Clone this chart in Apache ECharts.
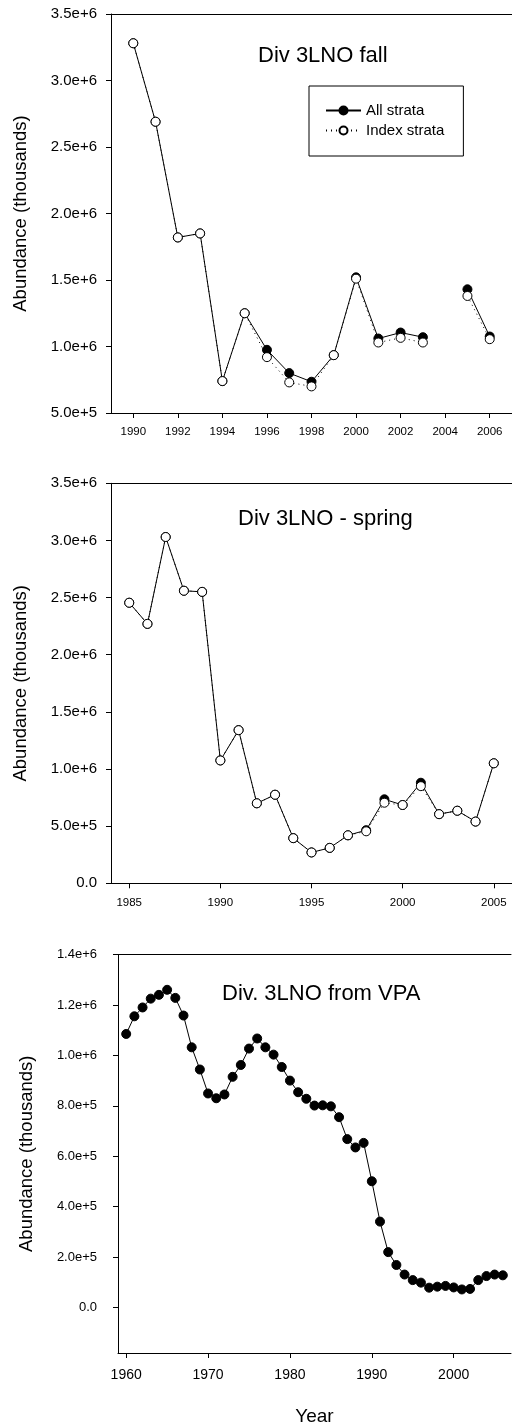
<!DOCTYPE html>
<html><head><meta charset="utf-8">
<script src="https://cdn.jsdelivr.net/npm/echarts@6/dist/echarts.min.js"></script>
<style>html,body{margin:0;padding:0;background:#fff}#c{width:512px;height:1427px}</style>
</head><body><div id="c"></div>
<script>
// ---- Panel 1: Div 3LNO fall ----
const fallYears = [1990,1991,1992,1993,1994,1995,1996,1997,1998,1999,2000,2001,2002,2003,2004,2005,2006];
const fallAll   = [3280000,2690000,1820000,1850000,740000,1250000,975000,800000,735000,935000,1520000,1060000,1105000,1070000,null,1430000,1075000];
const fallIndex = [3280000,2690000,1820000,1850000,740000,1250000,920000,730000,700000,935000,1510000,1030000,1065000,1030000,null,1380000,1055000];
const fallXTicks = [1990,1992,1994,1996,1998,2000,2002,2004,2006];

// ---- Panel 2: Div 3LNO - spring ----
const springYears = [1985,1986,1987,1988,1989,1990,1991,1992,1993,1994,1995,1996,1997,1998,1999,2000,2001,2002,2003,2004,2005];
const springAll   = [2455000,2270000,3030000,2560000,2550000,1075000,1340000,700000,775000,395000,270000,310000,420000,465000,735000,685000,880000,605000,635000,540000,1050000];
const springIndex = [2455000,2270000,3030000,2560000,2550000,1075000,1340000,700000,775000,395000,270000,310000,420000,455000,705000,685000,850000,605000,635000,540000,1050000];
const springXTicks = [1985,1990,1995,2000,2005];

// ---- Panel 3: Div. 3LNO from VPA ----
const vpaYears = [1960,1961,1962,1963,1964,1965,1966,1967,1968,1969,1970,1971,1972,1973,1974,1975,1976,1977,1978,1979,1980,1981,1982,1983,1984,1985,1986,1987,1988,1989,1990,1991,1992,1993,1994,1995,1996,1997,1998,1999,2000,2001,2002,2003,2004,2005,2006];
const vpaValues = [1085000,1155000,1190000,1225000,1240000,1260000,1228000,1158000,1032000,944000,849000,830000,845000,915000,962000,1027000,1067000,1032000,1003000,954000,900000,854000,828000,801000,802000,798000,755000,668000,635000,653000,501000,341000,220000,169000,131000,109000,99000,79000,83000,86000,80000,72000,74000,109000,125000,131000,128000];
const vpaXTicks = [1960,1970,1980,1990,2000];
const vpaYTicks = [0,200000,400000,600000,800000,1000000,1200000,1400000];

const titles = ['Div 3LNO fall', 'Div 3LNO - spring', 'Div. 3LNO from VPA'];
const yName = 'Abundance (thousands)';
const xName = 'Year';

const FONT = 'Arial, "Liberation Sans", sans-serif';
function fmt(v){ if (v === 0) return '0.0'; return Number(v).toExponential(1); }
function pairs(xs, ys){ return xs.map((x,i)=>[x, ys[i]==null ? '-' : ys[i]]); }

const chart = echarts.init(document.getElementById('c'), null, {renderer:'canvas'});

function xAxisCfg(gi, min, max, ticks, fs, margin, extra){
  return Object.assign({
    type:'value', gridIndex:gi, min:min, max:max, position:'bottom',
    axisLine:{show:true, onZero:false, lineStyle:{color:'#000', width:1}},
    axisTick:{show:true, inside:false, length:5, customValues:ticks, lineStyle:{color:'#000'}},
    axisLabel:{show:true, customValues:ticks, color:'#000', fontFamily:FONT, fontSize:fs, margin:margin, formatter:v=>String(v)},
    splitLine:{show:false}
  }, extra||{});
}
function topAxisCfg(gi, min, max){
  return {
    type:'value', gridIndex:gi, min:min, max:max, position:'top',
    axisLine:{show:true, onZero:false, lineStyle:{color:'#000', width:1}},
    axisTick:{show:false}, axisLabel:{show:false}, splitLine:{show:false}
  };
}
function yAxisCfg(gi, min, max, opts){
  const o = {
    type:'value', gridIndex:gi, min:min, max:max,
    axisLine:{show:true, onZero:false, lineStyle:{color:'#000', width:1}},
    axisTick:{show:true, inside:false, length:5, lineStyle:{color:'#000'}},
    axisLabel:{color:'#000', fontFamily:FONT, fontSize:opts.fs, margin:opts.margin, formatter:fmt},
    splitLine:{show:false},
    name:yName, nameLocation:'middle', nameRotate:90, nameGap:opts.nameGap,
    nameTextStyle:{color:'#000', fontFamily:FONT, fontSize:18.5}
  };
  if (opts.interval) o.interval = opts.interval;
  if (opts.ticks){ o.axisTick.customValues = opts.ticks; o.axisLabel.customValues = opts.ticks; }
  return o;
}

const lineAll = {color:'#000', width:1, type:'solid'};
const lineIdx = {color:'#000', width:1, type:[1,4]};

const option = {
  backgroundColor:'#fff',
  animation:false,
  title: [
    {text:titles[0], left:258, top:45, padding:0, textStyle:{fontFamily:FONT, fontSize:22, fontWeight:'normal', color:'#000'}},
    {text:titles[1], left:238, top:508, padding:0, textStyle:{fontFamily:FONT, fontSize:22, fontWeight:'normal', color:'#000'}},
    {text:titles[2], left:222, top:983, padding:0, textStyle:{fontFamily:FONT, fontSize:22, fontWeight:'normal', color:'#000'}}
  ],
  legend: {
    data:['All strata','Index strata'], orient:'vertical', left:309, top:86,
    padding:[17,19,18,16], itemGap:5, itemWidth:35, itemHeight:10, itemTextGap:10,
    borderColor:'#000', borderWidth:1, backgroundColor:'#fff', selectedMode:false,
    textStyle:{fontFamily:FONT, fontSize:15, color:'#000'}
  },
  grid: [
    {left:111, top:14, width:402, height:399, show:false},
    {left:111, top:483.3, width:403, height:400, show:false},
    {left:118, top:954.5, width:393, height:399.5, show:false}
  ],
  xAxis: [
    xAxisCfg(0, 1989, 2007, fallXTicks, 11.5, 13),
    xAxisCfg(1, 1984, 2006, springXTicks, 11.5, 14),
    xAxisCfg(2, 1959, 2007, vpaXTicks, 14, 15, {name:xName, nameLocation:'middle', nameGap:54, nameTextStyle:{color:'#000', fontFamily:FONT, fontSize:19}}),
    topAxisCfg(0, 1989, 2007),
    topAxisCfg(1, 1984, 2006),
    topAxisCfg(2, 1959, 2007)
  ],
  yAxis: [
    yAxisCfg(0, 500000, 3500000, {fs:15, margin:14, nameGap:81, interval:500000}),
    yAxisCfg(1, 0, 3500000, {fs:15, margin:14, nameGap:81, interval:500000}),
    yAxisCfg(2, -180000, 1400000, {fs:13, margin:21, nameGap:82, ticks:vpaYTicks})
  ],
  series: [
    {name:'All strata', type:'line', xAxisIndex:0, yAxisIndex:0, data:pairs(fallYears, fallAll), connectNulls:false,
      symbol:'circle', symbolSize:9, lineStyle:lineAll, itemStyle:{color:'#000', borderColor:'#000', borderWidth:1}, z:2},
    {name:'Index strata', type:'line', xAxisIndex:0, yAxisIndex:0, data:pairs(fallYears, fallIndex), connectNulls:false,
      symbol:'circle', symbolSize:9, lineStyle:lineIdx, itemStyle:{color:'#fff', borderColor:'#000', borderWidth:1}, z:3},
    {name:'All strata', type:'line', xAxisIndex:1, yAxisIndex:1, data:pairs(springYears, springAll),
      symbol:'circle', symbolSize:9, lineStyle:lineAll, itemStyle:{color:'#000', borderColor:'#000', borderWidth:1}, z:2},
    {name:'Index strata', type:'line', xAxisIndex:1, yAxisIndex:1, data:pairs(springYears, springIndex),
      symbol:'circle', symbolSize:9, lineStyle:lineIdx, itemStyle:{color:'#fff', borderColor:'#000', borderWidth:1}, z:3},
    {name:'VPA', type:'line', xAxisIndex:2, yAxisIndex:2, data:pairs(vpaYears, vpaValues),
      symbol:'circle', symbolSize:9, lineStyle:lineAll, itemStyle:{color:'#000', borderColor:'#000', borderWidth:1}, z:2}
  ]
};
chart.setOption(option);
</script>
</body></html>
